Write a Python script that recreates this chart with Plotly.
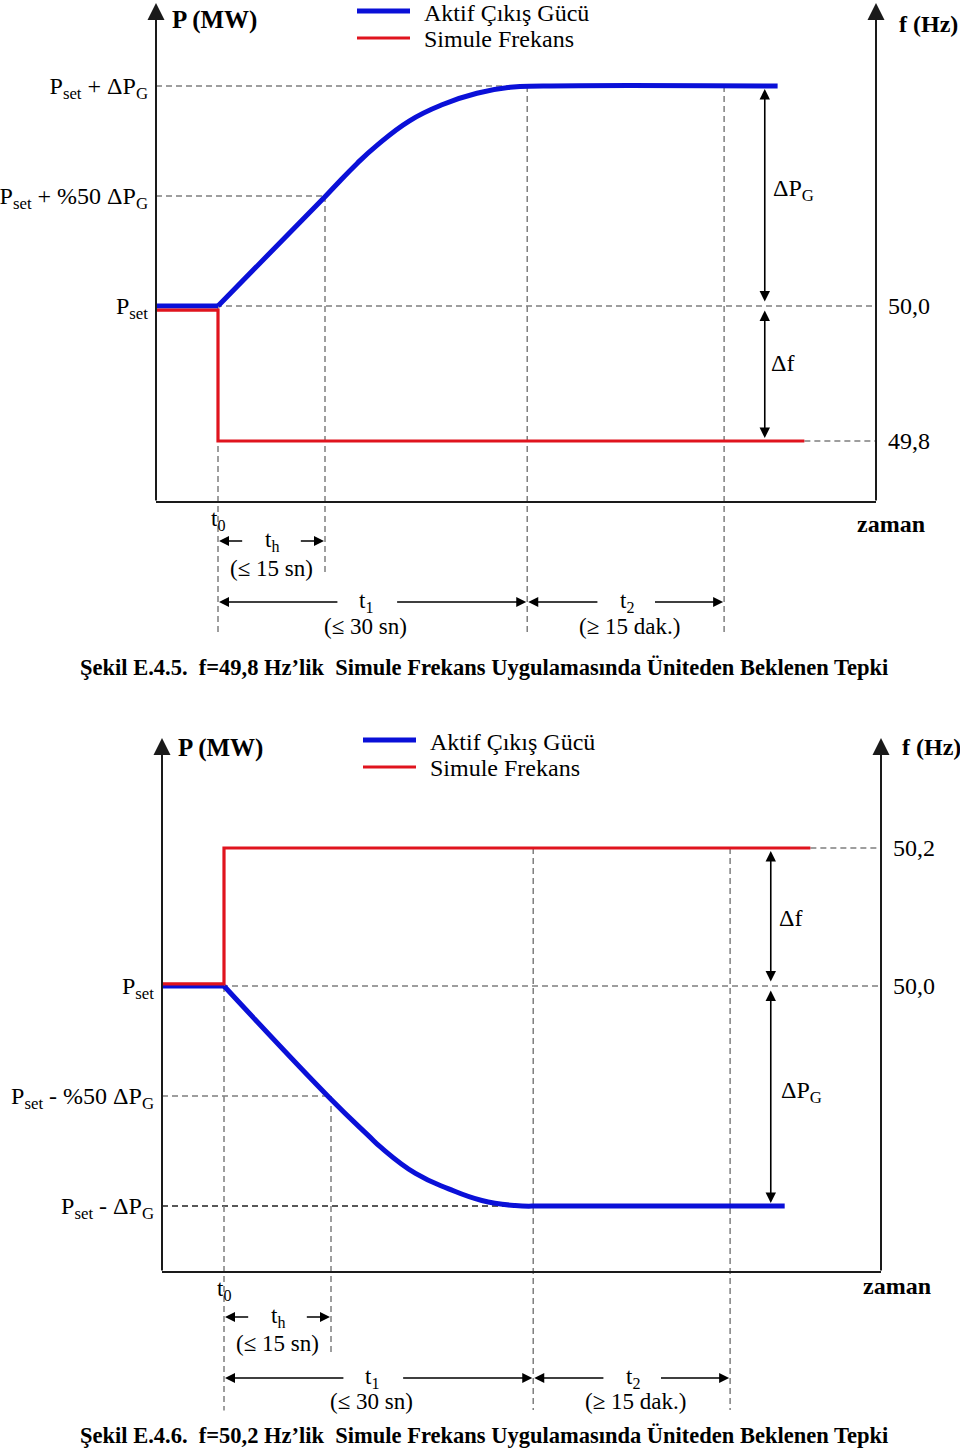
import plotly.graph_objects as go

W, H = 960, 1450
SERIF = "Liberation Serif"
BLUE = "#0a10d8"
RED = "#e0141e"
GRAY = "#7f7f7f"
AX = "#1a1a1a"

# ---------------- data (schematic units: time in t_h steps, power in ΔP_G, frequency in Hz) -------------
t_blue_top = [-0.58, 0.0, 1.0, 1.30, 1.48, 1.79, 2.10, 2.42, 2.73, 3.04, 5.23]
p_blue_top = [0.0, 0.0, 0.497, 0.648, 0.728, 0.842, 0.916, 0.967, 0.994, 1.0, 1.0]
t_red_top = [-0.58, 0.0, 0.0, 5.48]
f_red_top = [49.994, 49.994, 49.8, 49.8]

t_blue_bot = [-0.58, 0.0, 0.99, 1.35, 1.47, 1.79, 2.10, 2.41, 2.72, 3.03, 5.24]
p_blue_bot = [0.0, 0.0, -0.51, -0.68, -0.735, -0.852, -0.922, -0.975, -0.998, -1.0, -1.0]
t_red_bot = [-0.58, 0.0, 0.0, 5.48]
f_red_bot = [50.003, 50.003, 50.2, 50.2]

t0, th, t1, t2 = 0.0, 1.0, 2.89, 4.73

p_ticks_top = [1.0, 0.5, 0.0]
p_labels_top = ["P<sub>set</sub> + ΔP<sub>G</sub>", "P<sub>set</sub> + %50 ΔP<sub>G</sub>", "P<sub>set</sub>"]
f_ticks_top = [50.0, 49.8]
f_labels_top = ["50,0", "49,8"]

p_ticks_bot = [0.0, -0.5, -1.0]
p_labels_bot = ["P<sub>set</sub>", "P<sub>set</sub> - %50 ΔP<sub>G</sub>", "P<sub>set</sub> - ΔP<sub>G</sub>"]
f_ticks_bot = [50.2, 50.0]
f_labels_bot = ["50,2", "50,0"]

series_names = ["Aktif Çıkış Gücü", "Simule Frekans"]
captions = ["Şekil E.4.5.\u00a0 f=49,8 Hz’lik\u00a0 Simule Frekans Uygulamasında Üniteden Beklenen Tepki",
            "Şekil E.4.6.\u00a0 f=50,2 Hz’lik\u00a0 Simule Frekans Uygulamasında Üniteden Beklenen Tepki"]


def py(px):
    return 1 - px / H


def px_x(px):
    return px / W


fig = go.Figure()

panels = [
    dict(x="x", y="y", yf="y3", tb=t_blue_top, pb=p_blue_top, tr=t_red_top, fr=f_red_top,
         xdom=[px_x(156), px_x(876)], xr=[-0.5794, 6.1495],
         ydom=[py(640), py(3)], yr=[-1.5182, 1.3773], fr_rng=[49.5052, 50.4489],
         pt=p_ticks_top, pl=p_labels_top, ft=f_ticks_top, fl=f_labels_top,
         base=-0.891),
    dict(x="x2", y="y2", yf="y4", tb=t_blue_bot, pb=p_blue_bot, tr=t_red_bot, fr=f_red_bot,
         xdom=[px_x(162), px_x(881)], xr=[-0.5794, 6.1402],
         ydom=[py(1412), py(738)], yr=[-1.9364, 1.1273], fr_rng=[49.3826, 50.3594],
         pt=p_ticks_bot, pl=p_labels_bot, ft=f_ticks_bot, fl=f_labels_bot,
         base=-1.3),
]

layout_axes = {}
shapes = []
ann = []


def label(xref, x, y, text, size, xanchor="center", bold=False):
    t = "<b>" + text + "</b>" if bold else text
    return dict(xref=xref, yref="paper", x=x, y=y, text=t, showarrow=False, xanchor=xanchor,
                yanchor="middle", font=dict(family=SERIF, size=size, color="black"))


for i, pn in enumerate(panels):
    xs = pn["x"]
    ys = pn["y"]
    yfs = pn["yf"]
    fig.add_trace(go.Scatter(x=pn["tb"][:2], y=pn["pb"][:2], xaxis=xs, yaxis=ys, mode="lines",
                             line=dict(color=BLUE, width=5), showlegend=False, hoverinfo="skip"))
    fig.add_trace(go.Scatter(x=pn["tb"][1:], y=pn["pb"][1:], xaxis=xs, yaxis=ys, mode="lines",
                             line=dict(color=BLUE, width=5, shape="spline", smoothing=1.3),
                             showlegend=False, hoverinfo="skip", name=series_names[0]))
    fig.add_trace(go.Scatter(x=pn["tr"], y=pn["fr"], xaxis=xs, yaxis=yfs, mode="lines",
                             line=dict(color=RED, width=3.2), showlegend=False, hoverinfo="skip",
                             name=series_names[1]))

    xn = "xaxis" if i == 0 else "xaxis2"
    yn = "yaxis" if i == 0 else "yaxis2"
    yfn = "yaxis3" if i == 0 else "yaxis4"
    layout_axes[xn] = dict(domain=pn["xdom"], range=pn["xr"], anchor=ys, visible=False, fixedrange=True)
    layout_axes[yn] = dict(domain=pn["ydom"], range=pn["yr"], anchor=xs, showline=False, showgrid=False,
                           zeroline=False, ticks="", tickvals=pn["pt"], ticktext=pn["pl"],
                           tickfont=dict(family=SERIF, size=24, color="black"), ticklabelstandoff=7,
                           fixedrange=True)
    layout_axes[yfn] = dict(range=pn["fr_rng"], overlaying=ys, side="right", anchor=xs, showline=False,
                            showgrid=False, zeroline=False, ticks="", tickvals=pn["ft"], ticktext=pn["fl"],
                            tickfont=dict(family=SERIF, size=24, color="black"), ticklabelstandoff=11,
                            fixedrange=True)

    xd = xs + " domain"
    top = pn["yr"][1]
    base = pn["base"]
    shapes.append(dict(type="line", xref=xd, yref=ys, x0=0, x1=1, y0=base, y1=base,
                       line=dict(color=AX, width=2)))
    for xpos in (0, 1):
        ann.append(dict(xref=xd, yref=ys, x=xpos, y=top, ax=0, ayref=ys, ay=base, showarrow=True,
                        arrowhead=2, arrowsize=1.7, arrowwidth=2, arrowcolor=AX, text=""))

    dash = dict(color=GRAY, width=1.5, dash="6px,4px")
    darr = dict(showarrow=True, arrowhead=2, startarrowhead=2, arrowside="end+start", arrowsize=1.3,
                startarrowsize=1.3, arrowwidth=1.6, arrowcolor="black", standoff=3, startstandoff=3,
                text="", axref=xs)
    if i == 0:
        shapes += [
            dict(type="line", xref=xs, yref=ys, x0=pn["xr"][0], x1=t2, y0=1.0, y1=1.0, line=dash, layer="below"),
            dict(type="line", xref=xs, yref=ys, x0=pn["xr"][0], x1=th, y0=0.5, y1=0.5, line=dash, layer="below"),
            dict(type="line", xref=xs, yref=ys, x0=pn["xr"][0], x1=pn["xr"][1] + 0.08, y0=0.0, y1=0.0, line=dash, layer="below"),
            dict(type="line", xref=xs, yref=yfs, x0=pn["tr"][-1], x1=pn["xr"][1], y0=49.8, y1=49.8, line=dash, layer="below"),
            dict(type="line", xref=xs, yref=ys, x0=t0, x1=t0, y0=0.0, y1=-1.5, line=dash, layer="below"),
            dict(type="line", xref=xs, yref=ys, x0=th, x1=th, y0=0.5, y1=-1.225, line=dash, layer="below"),
            dict(type="line", xref=xs, yref=ys, x0=t1, x1=t1, y0=1.0, y1=-1.5, line=dash, layer="below"),
            dict(type="line", xref=xs, yref=ys, x0=t2, x1=t2, y0=1.0, y1=-1.5, line=dash, layer="below"),
        ]
        a = dict(darr); a.update(xref=xs, yref=ys, x=5.11, y=1.0, ax=5.11, ayref=ys, ay=0.0); ann.append(a)
        a = dict(darr); a.update(xref=xs, yref=yfs, x=5.11, y=49.8, ax=5.11, ayref=yfs, ay=50.0); ann.append(a)
        ann.append(label(xs, 5.17, py(190), "ΔP<sub>G</sub>", 24, "left"))
        ann.append(label(xs, 5.15, py(363), "Δf", 24, "left"))
    else:
        shapes += [
            dict(type="line", xref=xs, yref=yfs, x0=pn["tr"][-1], x1=pn["xr"][1], y0=50.2, y1=50.2, line=dash, layer="below"),
            dict(type="line", xref=xs, yref=ys, x0=pn["xr"][0], x1=pn["xr"][1] + 0.08, y0=0.0, y1=0.0, line=dash, layer="below"),
            dict(type="line", xref=xs, yref=ys, x0=pn["xr"][0], x1=th, y0=-0.5, y1=-0.5, line=dash, layer="below"),
            dict(type="line", xref=xs, yref=ys, x0=pn["xr"][0], x1=t1, y0=-1.0, y1=-1.0,
                 line=dict(color="#222222", width=1.5, dash="6px,4px"), layer="below"),
            dict(type="line", xref=xs, yref=ys, x0=t0, x1=t0, y0=0.0, y1=-1.93, line=dash, layer="below"),
            dict(type="line", xref=xs, yref=ys, x0=th, x1=th, y0=-0.5, y1=-1.68, line=dash, layer="below"),
            dict(type="line", xref=xs, yref=yfs, x0=t1, x1=t1, y0=50.2, y1=49.3855, line=dash, layer="below"),
            dict(type="line", xref=xs, yref=yfs, x0=t2, x1=t2, y0=50.2, y1=49.3855, line=dash, layer="below"),
        ]
        a = dict(darr); a.update(xref=xs, yref=yfs, x=5.11, y=50.2, ax=5.11, ayref=yfs, ay=50.0); ann.append(a)
        a = dict(darr); a.update(xref=xs, yref=ys, x=5.11, y=-1.0, ax=5.11, ayref=ys, ay=0.0); ann.append(a)
        ann.append(label(xs, 5.17, py(918), "Δf", 24, "left"))
        ann.append(label(xs, 5.19, py(1092), "ΔP<sub>G</sub>", 24, "left"))

    # interval arrows and labels below the time axis
    yth, yt1 = (541, 602) if i == 0 else (1317, 1378)
    ylab_h, ylab_1 = (568, 626) if i == 0 else (1343, 1401)
    yt0 = 520 if i == 0 else 1290
    arr = dict(showarrow=True, arrowhead=2, arrowsize=1.25, arrowwidth=1.6, arrowcolor="black",
               axref=xs, ayref="pixel", ay=0, text="", xref=xs, yref="paper", standoff=1)
    for tip, tail, yy in [(t0, 0.24, yth), (th, 0.76, yth), (t0, 1.13, yt1), (t1, 1.66, yt1),
                          (t1, 3.56, yt1), (t2, 4.07, yt1)]:
        a = dict(arr)
        a.update(x=tip, ax=tail, y=py(yy))
        ann.append(a)
    for xx, yy, tx, sz in [(t0, yt0, "t<sub>0</sub>", 23), (0.50, yth, "t<sub>h</sub>", 23),
                           (0.50, ylab_h, "(≤ 15 sn)", 23),
                           (1.38, yt1, "t<sub>1</sub>", 23), (1.38, ylab_1, "(≤ 30 sn)", 23),
                           (3.82, yt1, "t<sub>2</sub>", 23), (3.85, ylab_1, "(≥ 15 dak.)", 23)]:
        ann.append(label(xs, xx, py(yy), tx, sz))

    # axis titles
    ytitle = 20 if i == 0 else 748
    ann.append(label("paper", px_x(170 + (6 if i else 0)), py(ytitle), "P (MW)", 25, "left", True))
    ann.append(label("paper", px_x(897 + (3 if i else 0)), py(24 if i == 0 else 747), "f (Hz)", 24, "left", True))
    ann.append(label("paper", px_x(891 + (6 if i else 0)), py(524 if i == 0 else 1286), "zaman", 24, "center", True))

    # legend
    lx = 357 + (6 if i else 0)
    ly1, ly2 = (11, 38) if i == 0 else (740, 767)
    shapes.append(dict(type="line", xref="paper", yref="paper", x0=px_x(lx), x1=px_x(lx + 53),
                       y0=py(ly1), y1=py(ly1), line=dict(color=BLUE, width=5)))
    shapes.append(dict(type="line", xref="paper", yref="paper", x0=px_x(lx), x1=px_x(lx + 53),
                       y0=py(ly2), y1=py(ly2), line=dict(color=RED, width=3)))
    for yy, tx in [(ly1 + 2, series_names[0]), (ly2 + 1, series_names[1])]:
        ann.append(label("paper", px_x(lx + 65), py(yy), tx, 24, "left"))

    # caption
    ann.append(label("paper", px_x(484), py(667 if i == 0 else 1435), captions[i], 22.5, "center", True))

fig.update_layout(
    width=W, height=H, margin=dict(l=0, r=0, t=0, b=0), autosize=False,
    paper_bgcolor="white", plot_bgcolor="rgba(0,0,0,0)",
    showlegend=False, shapes=shapes, annotations=ann,
    font=dict(family=SERIF, color="black"),
    **layout_axes,
)

fig.write_html("out.html", config={"displayModeBar": False, "staticPlot": True},
               post_script="document.body.style.margin='0px';")
